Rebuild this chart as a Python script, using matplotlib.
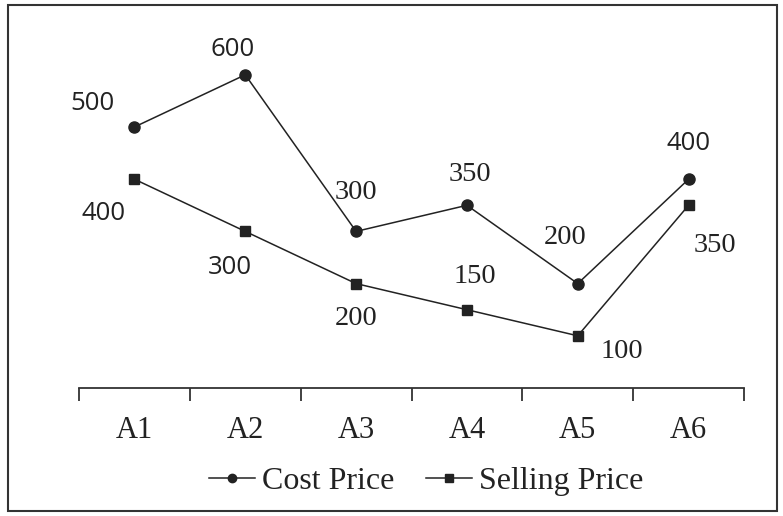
import matplotlib.pyplot as plt
from matplotlib.patches import Rectangle
from matplotlib.lines import Line2D

# Datos
categorias = ["A1", "A2", "A3", "A4", "A5", "A6"]
precio_costo = [500, 600, 300, 350, 200, 400]
precio_venta = [400, 300, 200, 150, 100, 350]

# Desplazamiento de las etiquetas (puntos) y fuente de cada una
off_costo = [(-30, 17), (-9, 18), (0, 28), (2, 22), (-9, 33), (0, 26)]
off_venta = [(-22, -25), (-11, -26), (0, -25), (6, 24), (32, -11), (19, -29)]
fuente_costo = ["Open Sans", "Open Sans", "Liberation Serif", "Liberation Serif", "Liberation Serif", "Open Sans"]
fuente_venta = ["Open Sans", "Open Sans", "Liberation Serif", "Liberation Serif", "Liberation Serif", "Liberation Serif"]

def tam(f):
    return 18.5 if f == "Open Sans" else 20.5

W, H = 783, 516
fig = plt.figure(figsize=(W / 100, H / 100), dpi=100)
fig.patches.append(Rectangle((8 / W, 5 / H), 769 / W, 506 / H, transform=fig.transFigure,
                             fill=False, edgecolor="#333333", linewidth=1.5))

ax_y0, ax_top = 388, 30
ax = fig.add_axes([79 / W, (H - ax_y0) / H, (744 - 79) / W, (ax_y0 - ax_top) / H])
x = list(range(len(categorias)))

ax.plot(x, precio_costo, marker='o', markersize=8, color='#222222', linewidth=1.1)
ax.plot(x, precio_venta, marker='s', markersize=7.5, color='#222222', linewidth=1.1)

for i in x:
    ax.annotate(str(precio_costo[i]), (i, precio_costo[i]), xytext=off_costo[i], textcoords='offset points',
                ha='center', va='center', fontsize=tam(fuente_costo[i]), family=fuente_costo[i], color='#222222')
    ax.annotate(str(precio_venta[i]), (i, precio_venta[i]), xytext=off_venta[i], textcoords='offset points',
                ha='center', va='center', fontsize=tam(fuente_venta[i]), family=fuente_venta[i], color='#222222')

ax.set_xlim(-0.5, len(categorias) - 0.5)
ax.set_ylim(0, (ax_y0 - ax_top) / 0.522)
for s in ["top", "right", "left"]:
    ax.spines[s].set_visible(False)
ax.spines["bottom"].set_color("#333333")
ax.spines["bottom"].set_linewidth(1.3)
ax.set_yticks([])
ax.set_xticks([i - 0.5 for i in range(len(categorias) + 1)], minor=False)
ax.set_xticklabels([])
ax.tick_params(axis='x', which='major', length=9, width=1.3, color="#333333", direction='out')
ax.set_xticks(x, minor=True)
ax.set_xticklabels(categorias, minor=True, family="Liberation Serif", fontsize=22, color='#222222')
ax.tick_params(axis='x', which='minor', length=0, pad=20)

# Leyenda con marcadores más pequeños
handles = [Line2D([], [], color='#222222', linewidth=1.1, marker='o', markersize=6),
           Line2D([], [], color='#222222', linewidth=1.1, marker='s', markersize=6)]
fig.legend(handles, ["Cost Price", "Selling Price"], loc='center', bbox_to_anchor=(426 / W, (H - 481) / H),
           ncol=2, frameon=False, prop={'family': 'Liberation Serif', 'size': 23}, handlelength=1.45,
           handletextpad=0.2, columnspacing=1.0, labelcolor='#222222')

fig.savefig("out.png", dpi=100)
